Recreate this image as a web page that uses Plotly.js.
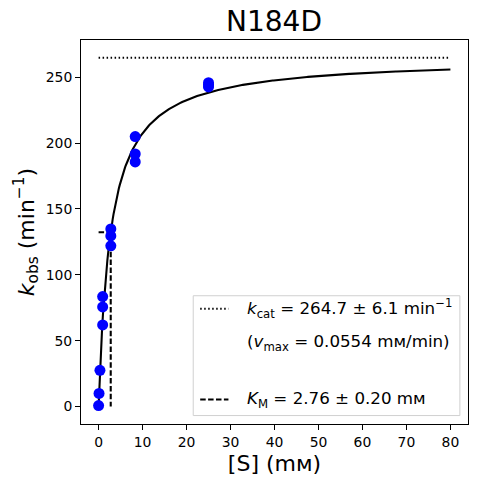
<!DOCTYPE html>
<html><head><meta charset="utf-8">
<script src="https://cdn.plot.ly/plotly-3.0.1.min.js"></script>
<style>html,body{margin:0;padding:0;background:#fff}#c{width:477px;height:484px}</style>
</head><body><div id="c"></div>
<script>
// Data
var substrate = [0, 0.103, 0.309, 0.926, 0.926, 0.926, 2.78, 2.78, 2.78, 8.33, 8.33, 8.33, 25, 25, 25];
var kobs      = [0.8, 10, 27.5, 62, 75.6, 83.5, 122, 129.5, 134.8, 185.7, 191.7, 204.9, 242.6, 244.2, 245.8];
var kcat = [264.7];
var KM = [2.76];
var curveS = [];
for (var i = 0; i <= 400; i++) curveS.push(i * 0.2);
var curveV = curveS.map(function(s){ return kcat[0] * s / (KM[0] + s); });
var xTicks = [0, 10, 20, 30, 40, 50, 60, 70, 80];
var yTicks = [0, 50, 100, 150, 200, 250];
var title = "N184D";

var font = "DejaVu Sans, sans-serif";
var traces = [
  {x: curveS, y: curveV, mode: "lines", line: {color: "black", width: 2.08}, hoverinfo: "skip"},
  {x: [0, 80], y: [kcat[0], kcat[0]], mode: "lines", line: {color: "black", width: 2.08, dash: "1.5px,2.5px"}},
  {x: [0, KM[0], KM[0]], y: [kcat[0]/2, kcat[0]/2, 0], mode: "lines", line: {color: "black", width: 2.08, dash: "5.5px,2.4px"}},
  {x: substrate, y: kobs, mode: "markers", marker: {color: "blue", size: 11}}
];
var axisCommon = {
  showgrid: false, zeroline: false, showline: true, mirror: true, linecolor: "black", linewidth: 1,
  ticks: "outside", ticklen: 5, tickwidth: 1, tickcolor: "black",
  tickfont: {family: font, size: 13.9, color: "black"}
};
var layout = {
  width: 477, height: 484,
  margin: {l: 80.5, r: 9, t: 40, b: 59.5},
  paper_bgcolor: "white", plot_bgcolor: "white",
  showlegend: false,
  font: {family: font, color: "black"},
  title: {text: title, font: {family: font, size: 28, color: "black"}, x: 0.5745, xanchor: "center", y: 0.935, yanchor: "bottom"},
  xaxis: Object.assign({}, axisCommon, {range: [-4, 84], tickvals: xTicks,
    title: {text: "[S] (mᴍ)", font: {family: font, size: 22, color: "black"}, standoff: 6}}),
  yaxis: Object.assign({}, axisCommon, {range: [-13.2, 278.2], tickvals: yTicks,
    title: {text: "<i>k</i><sub>obs</sub> (min<sup>−1</sup>)", font: {family: font, size: 22, color: "black"}, standoff: 5}}),
  shapes: [
    {type: "rect", xref: "paper", yref: "paper", x0: 0.290, x1: 0.979, y0: 0.022, y1: 0.334,
     line: {color: "#d0d0d0", width: 1}, fillcolor: "rgba(255,255,255,0.8)", layer: "above"},
    {type: "line", xref: "paper", yref: "paper", x0: 0.308, x1: 0.381, y0: 0.300, y1: 0.300,
     line: {color: "black", width: 2.08, dash: "1.5px,2.5px"}},
    {type: "line", xref: "paper", yref: "paper", x0: 0.308, x1: 0.381, y0: 0.0637, y1: 0.0637,
     line: {color: "black", width: 2.08, dash: "5.5px,2.4px"}}
  ],
  annotations: [
    {xref: "paper", yref: "paper", x: 0.4245, y: 0.300, xanchor: "left", yanchor: "middle", showarrow: false,
     text: "<i>k</i><sub>cat</sub> = 264.7 ± 6.1 min<sup>−1</sup>", font: {family: font, size: 16.7, color: "black"}},
    {xref: "paper", yref: "paper", x: 0.4245, y: 0.212, xanchor: "left", yanchor: "middle", showarrow: false,
     text: "(<i>v</i><sub>max</sub> = 0.0554 mᴍ/min)", font: {family: font, size: 16.7, color: "black"}},
    {xref: "paper", yref: "paper", x: 0.4245, y: 0.0637, xanchor: "left", yanchor: "middle", showarrow: false,
     text: "<i>K</i><sub>M</sub> = 2.76 ± 0.20 mᴍ", font: {family: font, size: 16.7, color: "black"}}
  ]
};
Plotly.newPlot("c", traces, layout, {staticPlot: true, displayModeBar: false});
</script></body></html>
